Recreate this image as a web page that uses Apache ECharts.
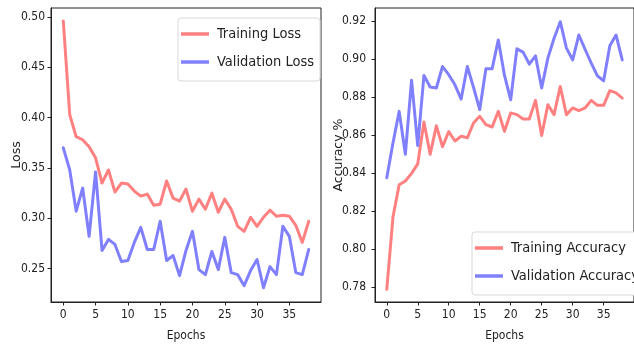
<!DOCTYPE html>
<html>
<head>
<meta charset="utf-8">
<script src="https://cdn.jsdelivr.net/npm/echarts@6/dist/echarts.min.js"></script>
<style>
html,body{margin:0;padding:0;background:#fff;}
#c{width:634px;height:347px;}
</style>
</head>
<body>
<div id="c"></div>
<script>
var epochs = [0,1,2,3,4,5,6,7,8,9,10,11,12,13,14,15,16,17,18,19,20,21,22,23,24,25,26,27,28,29,30,31,32,33,34,35,36,37,38];
var trainLoss = [0.496,0.403,0.381,0.378,0.371,0.360,0.335,0.348,0.326,0.335,0.334,0.327,0.322,0.324,0.313,0.314,0.337,0.320,0.317,0.329,0.307,0.319,0.309,0.325,0.306,0.319,0.309,0.292,0.287,0.301,0.292,0.301,0.308,0.302,0.303,0.302,0.293,0.276,0.297];
var valLoss = [0.370,0.348,0.307,0.330,0.282,0.346,0.268,0.279,0.274,0.257,0.258,0.276,0.291,0.269,0.269,0.297,0.258,0.263,0.243,0.268,0.287,0.249,0.244,0.267,0.249,0.281,0.246,0.244,0.233,0.248,0.259,0.231,0.252,0.244,0.292,0.282,0.246,0.244,0.269];
var trainAcc = [0.779,0.817,0.834,0.836,0.840,0.845,0.867,0.850,0.865,0.854,0.862,0.857,0.8595,0.8587,0.8665,0.870,0.8656,0.8644,0.8726,0.8621,0.8718,0.8709,0.8686,0.8686,0.8784,0.8599,0.8761,0.8709,0.8857,0.8709,0.8744,0.873,0.8744,0.8784,0.8758,0.8758,0.8835,0.8823,0.8796];
var valAcc = [0.8377,0.856,0.8726,0.850,0.889,0.8546,0.8915,0.8854,0.8849,0.8962,0.8919,0.8866,0.8791,0.8962,0.8852,0.8735,0.895,0.895,0.9102,0.8915,0.8787,0.9055,0.9038,0.8975,0.9018,0.8849,0.9006,0.9111,0.9198,0.9059,0.8997,0.9128,0.9053,0.898,0.8913,0.8887,0.9071,0.9128,0.8997];
var xTicks = [0,5,10,15,20,25,30,35];
var lossTicks = [0.25,0.30,0.35,0.40,0.45,0.50];
var accTicks = [0.78,0.80,0.82,0.84,0.86,0.88,0.90,0.92];

var FONT = '"Liberation Sans Narrow","DejaVu Sans Condensed",sans-serif';
var RED = '#ff8080', BLUE = '#8080ff', INK = '#222';

function pairs(arr){ return arr.map(function(v,i){ return [epochs[i], v]; }); }

function xAxis(gi){
  return {
    type:'value', gridIndex:gi, min:-1.9, max:39.9,
    name:'Epochs', nameLocation:'middle', nameGap:28, nameMoveOverlap:false,
    nameTextStyle:{fontFamily:FONT, fontSize:12, color:INK},
    axisLine:{show:true, onZero:false, lineStyle:{color:INK, width:1}},
    axisTick:{show:true, inside:false, length:3.5, customValues:xTicks, lineStyle:{color:INK}},
    axisLabel:{show:true, customValues:xTicks, margin:7, fontFamily:FONT, fontSize:12, color:INK},
    splitLine:{show:false}
  };
}
function yAxis(gi, min, max, ticks, name, gap, margin){
  return {
    type:'value', gridIndex:gi, min:min, max:max,
    name:name, nameLocation:'middle', nameRotate:90, nameGap:gap, nameMoveOverlap:false,
    nameTextStyle:{fontFamily:'DejaVu Sans', fontSize:12.5, color:INK},
    axisLine:{show:true, onZero:false, lineStyle:{color:INK, width:1}},
    axisTick:{show:true, inside:false, length:3.5, customValues:ticks, lineStyle:{color:INK}},
    axisLabel:{show:true, customValues:ticks, margin:margin, fontFamily:FONT, fontSize:12, color:INK,
      formatter:function(v){ return v.toFixed(2); }},
    splitLine:{show:false}
  };
}
function legend(names, left, top){
  return {
    data:names, left:left, top:top, orient:'vertical',
    icon:'rect', itemWidth:28, itemHeight:3.5, itemGap:8,
    padding:[6,6,9,3],
    backgroundColor:'#fff', borderColor:'#d8d8d8', borderWidth:1, borderRadius:3,
    textStyle:{fontFamily:FONT, fontSize:14.5, color:INK, lineHeight:20, padding:[0,0,0,3]}
  };
}
function line(name, data, color, xi, yi){
  return {
    name:name, type:'line', xAxisIndex:xi, yAxisIndex:yi, data:pairs(data),
    showSymbol:false, symbol:'none', color:color,
    lineStyle:{color:color, width:3, join:'round', cap:'round'}
  };
}

var chart = echarts.init(document.getElementById('c'), null, {renderer:'canvas'});
chart.setOption({
  animation:false,
  backgroundColor:'#fff',
  grid:[
    {left:51, top:8, width:270, height:295, show:true, borderColor:INK, borderWidth:1, backgroundColor:'transparent'},
    {left:375, top:8, width:269, height:295, show:true, borderColor:INK, borderWidth:1, backgroundColor:'transparent'}
  ],
  xAxis:[xAxis(0), xAxis(1)],
  yAxis:[
    yAxis(0, 0.2168, 0.5089, lossTicks, 'Loss', 28, 6),
    yAxis(1, 0.7723, 0.927, accTicks, 'Accuracy %', 30, 9)
  ],
  legend:[
    legend(['Training Loss','Validation Loss'], 178, 18),
    legend(['Training Accuracy','Validation Accuracy'], 472, 232)
  ],
  series:[
    line('Training Loss', trainLoss, RED, 0, 0),
    line('Validation Loss', valLoss, BLUE, 0, 0),
    line('Training Accuracy', trainAcc, RED, 1, 1),
    line('Validation Accuracy', valAcc, BLUE, 1, 1)
  ]
});
</script>
</body>
</html>
